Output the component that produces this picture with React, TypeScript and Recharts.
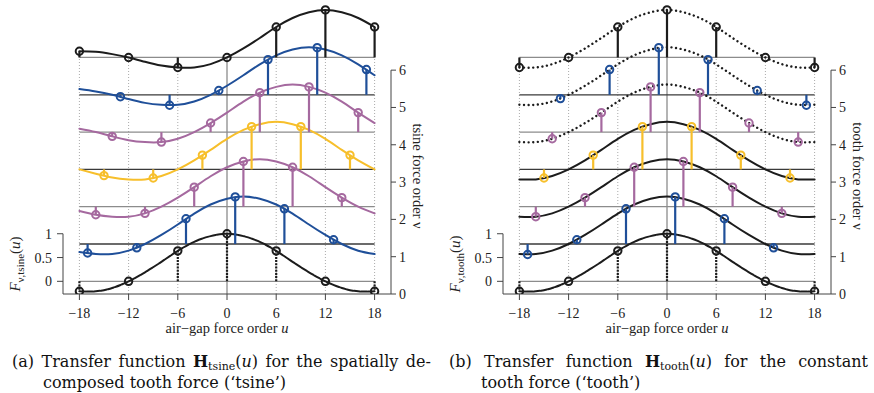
import React from "react";
import { ComposedChart, Line, Scatter, XAxis, YAxis, ReferenceLine } from "recharts";

// curve samples, read at u = -18, -16, ..., 18
const U_GRID = [-18, -16, -14, -12, -10, -8, -6, -4, -2, 0, 2, 4, 6, 8, 10, 12, 14, 16, 18];
const U_TICKS = [-18, -12, -6, 0, 6, 12, 18];
const V_TICKS = [0, 1, 2, 3, 4, 5, 6];
const F_TICKS = [0, 0.5, 1];

const TSINE_CURVE_0 = [-0.21, -0.21, -0.14, 0, 0.19, 0.41, 0.64, 0.83, 0.95, 1, 0.95, 0.83, 0.64, 0.41, 0.19, 0, -0.14, -0.21, -0.21];
const TSINE_CURVE_1 = [-0.17, -0.21, -0.21, -0.14, 0, 0.19, 0.41, 0.64, 0.83, 0.95, 1, 0.95, 0.83, 0.64, 0.41, 0.19, 0, -0.14, -0.21];
const TSINE_CURVE_2 = [-0.09, -0.17, -0.21, -0.21, -0.14, 0, 0.19, 0.41, 0.64, 0.83, 0.95, 1, 0.95, 0.83, 0.64, 0.41, 0.19, 0, -0.14];
const TSINE_CURVE_3 = [0, -0.09, -0.17, -0.21, -0.21, -0.14, 0, 0.19, 0.41, 0.64, 0.83, 0.95, 1, 0.95, 0.83, 0.64, 0.41, 0.19, 0];
const TSINE_CURVE_4 = [0.07, 0, -0.09, -0.17, -0.21, -0.21, -0.14, 0, 0.19, 0.41, 0.64, 0.83, 0.95, 1, 0.95, 0.83, 0.64, 0.41, 0.19];
const TSINE_CURVE_5 = [0.12, 0.07, 0, -0.09, -0.17, -0.21, -0.21, -0.14, 0, 0.19, 0.41, 0.64, 0.83, 0.95, 1, 0.95, 0.83, 0.64, 0.41];
const TSINE_CURVE_6 = [0.13, 0.12, 0.07, 0, -0.09, -0.17, -0.21, -0.21, -0.14, 0, 0.19, 0.41, 0.64, 0.83, 0.95, 1, 0.95, 0.83, 0.64];
// every tooth row carries the same curve
const TOOTH_CURVE = [-0.21, -0.21, -0.14, 0, 0.19, 0.41, 0.64, 0.83, 0.95, 1, 0.95, 0.83, 0.64, 0.41, 0.19, 0, -0.14, -0.21, -0.21];

// stem positions per force order v
const STEM_U_0 = [-18, -12, -6, 0, 6, 12, 18];
const STEM_U_1 = [-17, -11, -5, 1, 7, 13];
const STEM_U_2 = [-16, -10, -4, 2, 8, 14];
const STEM_U_3 = [-15, -9, -3, 3, 9, 15];
const STEM_U_4 = [-14, -8, -2, 4, 10, 16];
const STEM_U_5 = [-13, -7, -1, 5, 11, 17];
const STEM_U_6 = [-18, -12, -6, 0, 6, 12, 18];

const TSINE_STEM_0 = [-0.21, 0, 0.64, 1, 0.64, 0, -0.21];
const TSINE_STEM_1 = [-0.19, -0.08, 0.53, 0.99, 0.74, 0.09];
const TSINE_STEM_2 = [-0.17, -0.14, 0.41, 0.95, 0.83, 0.19];
const TSINE_STEM_3 = [-0.13, -0.18, 0.3, 0.9, 0.9, 0.3];
const TSINE_STEM_4 = [-0.09, -0.21, 0.19, 0.83, 0.95, 0.41];
const TSINE_STEM_5 = [-0.04, -0.22, 0.09, 0.74, 0.99, 0.53];
const TSINE_STEM_6 = [0.13, 0, -0.21, 0, 0.64, 1, 0.64];

const TOOTH_STEM_0 = [-0.21, 0, 0.64, 1, 0.64, 0, -0.21];
const TOOTH_STEM_1 = [-0.22, 0.09, 0.74, 0.99, 0.53, -0.08];
const TOOTH_STEM_2 = [-0.21, 0.19, 0.83, 0.95, 0.41, -0.14];
const TOOTH_STEM_3 = [-0.18, 0.3, 0.9, 0.9, 0.3, -0.18];
const TOOTH_STEM_4 = [-0.14, 0.41, 0.95, 0.83, 0.19, -0.21];
const TOOTH_STEM_5 = [-0.08, 0.53, 0.99, 0.74, 0.09, -0.22];
const TOOTH_STEM_6 = [-0.21, 0, 0.64, 1, 0.64, 0, -0.21];

const ROW_COLORS = ["#1c1c1c", "#1f4f99", "#a5699f", "#f7bf2b", "#a5699f", "#1f4f99", "#1c1c1c"];
const STEM_U = [STEM_U_0, STEM_U_1, STEM_U_2, STEM_U_3, STEM_U_4, STEM_U_5, STEM_U_6];

// each row sits one force order higher; F is scaled onto the v axis
const BASE = 0.34;
const F_SCALE = 1.275;
const toY = (v: number, f: number) => v + BASE + f * F_SCALE;

const FONT = "Liberation Serif, Times New Roman, serif";
const CAP_FONT = "DejaVu Serif, serif";
const fmtU = (u: number) => (u < 0 ? "\u2212" + Math.abs(u) : String(u));
const tickStyle = { fill: "#222", fontSize: 14, fontFamily: FONT };

const ring = (color: string) => (p: any) =>
  <circle cx={p.cx} cy={p.cy} r={3.7} fill="none" stroke={color} strokeWidth={2} />;

interface PanelProps {
  curves: number[][];
  curveColors: string[];
  dotted: boolean[];
  stems: number[][];
  sub: string;
}

function Panel({ curves, curveColors, dotted, stems, sub }: PanelProps) {
  const rows = curves.map((vals, v) => U_GRID.map((u, i) => ({ u, y: toY(v, vals[i]) })));
  const marks = stems.map((vals, v) => STEM_U[v].map((u, i) => ({ u, y: toY(v, vals[i]) })));

  return (
    <div style={{ position: "relative", width: 437, height: 340, fontFamily: FONT, color: "#222" }}>
      <ComposedChart
        width={437}
        height={340}
        margin={{ top: 3, right: 6, bottom: 16, left: 8 }}
        style={{ fontFamily: FONT }}
      >
        <XAxis
          type="number"
          dataKey="u"
          domain={[-20, 20]}
          ticks={U_TICKS}
          tickFormatter={fmtU}
          allowDataOverflow
          height={30}
          tickSize={6}
          tickMargin={8}
          stroke="#444"
          tick={tickStyle}
        />
        <YAxis
          yAxisId="l"
          orientation="left"
          domain={[0, 7.8]}
          allowDataOverflow
          ticks={F_TICKS.map((f) => toY(0, f))}
          tickFormatter={(t: number) => String(Math.round(((t - BASE) / F_SCALE) * 10) / 10)}
          width={55}
          axisLine={false}
          tickSize={6}
          tickMargin={5}
          tickLine={{ stroke: "#444" }}
          tick={tickStyle}
        />
        <YAxis
          orientation="right"
          domain={[0, 7.8]}
          allowDataOverflow
          ticks={V_TICKS}
          width={40}
          axisLine={false}
          tickSize={5}
          tickMargin={3}
          tickLine={{ stroke: "#444" }}
          tick={{ ...tickStyle, textAnchor: "start" }}
        />

        {U_TICKS.map((u) => (
          <ReferenceLine
            key={"g" + u}
            segment={[{ x: u, y: 0 }, { x: u, y: toY(6, 0) }]}
            stroke={u === 0 ? "#8c8c8c" : "#aaa"}
            strokeWidth={u === 0 ? 1.3 : 1}
            strokeDasharray={u === 0 ? undefined : "1 2"}
            ifOverflow="visible"
          />
        ))}
        {curves.map((_, v) => (
          <ReferenceLine
            key={"b" + v}
            segment={[{ x: -18, y: toY(v, 0) }, { x: 18, y: toY(v, 0) }]}
            stroke={v % 2 ? "#3a3a3a" : "#8c8c8c"}
            strokeWidth={1.3}
            ifOverflow="visible"
          />
        ))}
        <ReferenceLine segment={[{ x: -20, y: 0 }, { x: -20, y: toY(0, 1) }]} stroke="#444" ifOverflow="visible" />
        <ReferenceLine segment={[{ x: 20, y: 0 }, { x: 20, y: 6 }]} stroke="#444" ifOverflow="visible" />

        {rows.map((data, v) => (
          <Line
            key={"c" + v}
            data={data}
            dataKey="y"
            type="natural"
            stroke={curveColors[v]}
            strokeWidth={dotted[v] ? 2.4 : 2}
            strokeDasharray={dotted[v] ? "0.01 4.6" : v === 0 ? "6 1.2" : undefined}
            strokeLinecap="round"
            dot={false}
            activeDot={false}
            isAnimationActive={false}
          />
        ))}
        {marks.map((pts, v) =>
          pts.map((p) => (
            <ReferenceLine
              key={"s" + v + "_" + p.u}
              segment={[{ x: p.u, y: toY(v, 0) }, { x: p.u, y: p.y }]}
              stroke={ROW_COLORS[v]}
              strokeWidth={2.2}
              strokeDasharray={v === 0 ? "2 1.2" : undefined}
              ifOverflow="visible"
            />
          ))
        )}
        {marks.map((pts, v) => (
          <Scatter
            key={"m" + v}
            data={pts}
            dataKey="y"
            shape={ring(ROW_COLORS[v])}
            isAnimationActive={false}
          />
        ))}
      </ComposedChart>

      <div
        style={{
          position: "absolute", left: -40, top: 254, width: 110, height: 20, lineHeight: "20px",
          transform: "rotate(-90deg)", textAlign: "center", fontSize: 15,
        }}
      >
        <i>F</i>
        <sub style={{ fontSize: 11 }}>ν,{sub}</sub>(<i>u</i>)
      </div>
      <div
        style={{
          position: "absolute", left: 348, top: 167, width: 140, height: 18, lineHeight: "18px",
          transform: "rotate(90deg)", textAlign: "center", fontSize: 14.5,
        }}
      >
        {sub} force order ν
      </div>
      <div
        style={{
          position: "absolute", left: 127, top: 319, width: 200, lineHeight: "18px",
          textAlign: "center", fontSize: 14.5,
        }}
      >
        air−gap force order <i>u</i>
      </div>
    </div>
  );
}

const CAP: React.CSSProperties = {
  position: "absolute", fontFamily: CAP_FONT, fontSize: 16, color: "#111", lineHeight: "21px", whiteSpace: "nowrap",
};
const SPREAD: React.CSSProperties = { display: "flex", justifyContent: "space-between" };
const SUB: React.CSSProperties = { fontSize: 11, verticalAlign: "-3px", lineHeight: 0 };

export default function App() {
  const tsine = [TSINE_CURVE_0, TSINE_CURVE_1, TSINE_CURVE_2, TSINE_CURVE_3, TSINE_CURVE_4, TSINE_CURVE_5, TSINE_CURVE_6];
  const tooth = [TOOTH_CURVE, TOOTH_CURVE, TOOTH_CURVE, TOOTH_CURVE, TOOTH_CURVE, TOOTH_CURVE, TOOTH_CURVE];
  return (
    <div style={{ position: "absolute", left: 0, top: 0, width: 874, height: 393, background: "#fff" }}>
      <div style={{ position: "absolute", left: 0, top: 0 }}>
        <Panel
          curves={tsine}
          curveColors={ROW_COLORS}
          dotted={[false, false, false, false, false, false, false]}
          stems={[TSINE_STEM_0, TSINE_STEM_1, TSINE_STEM_2, TSINE_STEM_3, TSINE_STEM_4, TSINE_STEM_5, TSINE_STEM_6]}
          sub="tsine"
        />
      </div>
      <div style={{ position: "absolute", left: 440, top: 0 }}>
        <Panel
          curves={tooth}
          curveColors={["#1c1c1c", "#1c1c1c", "#1c1c1c", "#1c1c1c", "#1c1c1c", "#1c1c1c", "#1c1c1c"]}
          dotted={[false, false, false, false, true, true, true]}
          stems={[TOOTH_STEM_0, TOOTH_STEM_1, TOOTH_STEM_2, TOOTH_STEM_3, TOOTH_STEM_4, TOOTH_STEM_5, TOOTH_STEM_6]}
          sub="tooth"
        />
      </div>

      <div style={{ ...CAP, left: 12, top: 351, width: 419 }}>
        <div style={SPREAD}>
          <span>(a)</span>
          <span>Transfer</span>
          <span>function</span>
          <span>
            <b>H</b>
            <span style={SUB}>tsine</span>(<i>u</i>)
          </span>
          <span>for</span>
          <span>the</span>
          <span>spatially</span>
          <span>de-</span>
        </div>
        <div style={{ paddingLeft: 31 }}>composed tooth force (‘tsine’)</div>
      </div>
      <div style={{ ...CAP, left: 449, top: 351, width: 419 }}>
        <div style={SPREAD}>
          <span>(b)</span>
          <span>Transfer</span>
          <span>function</span>
          <span>
            <b>H</b>
            <span style={SUB}>tooth</span>(<i>u</i>)
          </span>
          <span>for</span>
          <span>the</span>
          <span>constant</span>
        </div>
        <div style={{ paddingLeft: 32 }}>tooth force (‘tooth’)</div>
      </div>
    </div>
  );
}
